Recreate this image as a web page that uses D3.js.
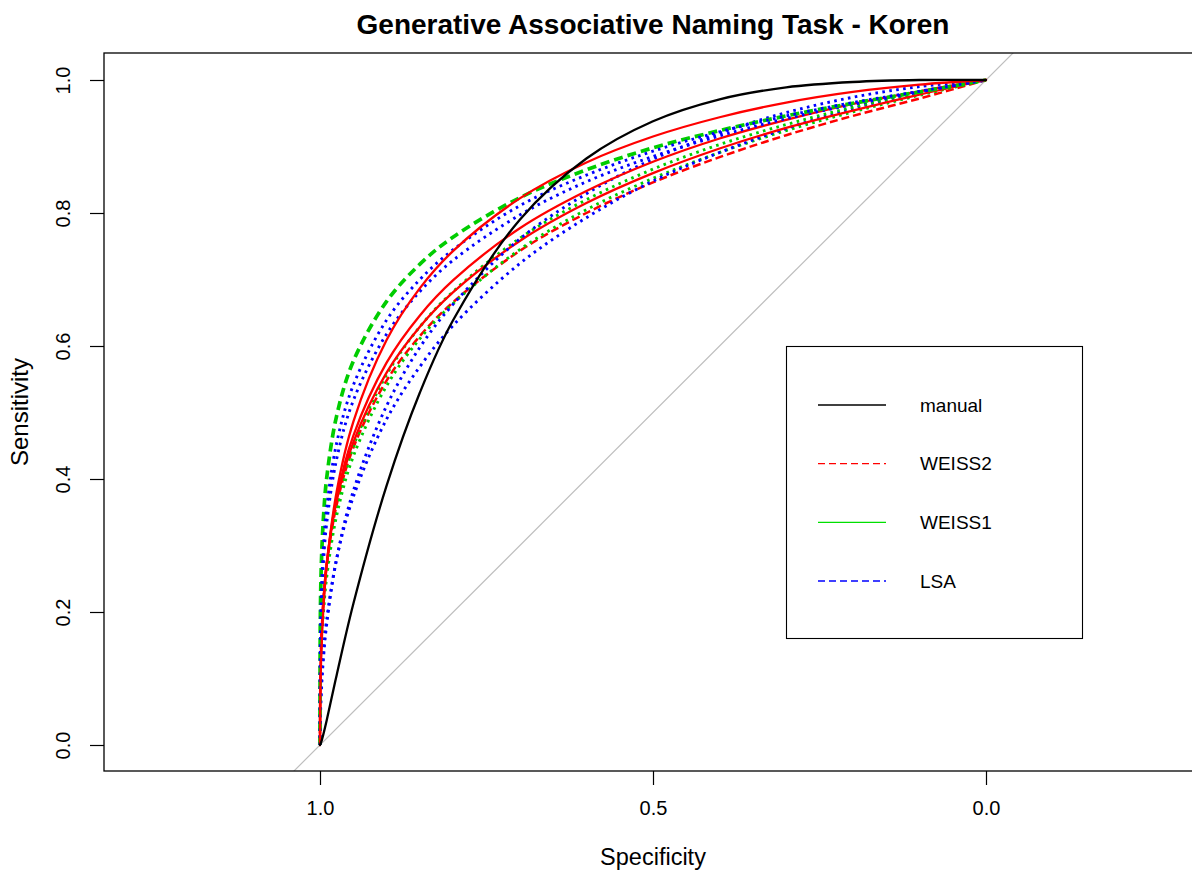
<!DOCTYPE html>
<html>
<head>
<meta charset="utf-8">
<script src="https://cdn.jsdelivr.net/npm/d3@7"></script>
<style>
  html, body { margin: 0; padding: 0; background: #fff; }
  svg { display: block; }
  text { font-family: "Liberation Sans", Arial, Helvetica, sans-serif; fill: #000; }
</style>
</head>
<body>
<svg id="chart" width="1192" height="870"></svg>
<script>
// Specificity grid shared by every smoothed ROC curve (x axis runs 1 -> 0)
const specificity = [1, 0.9995, 0.998, 0.995, 0.99, 0.975, 0.95, 0.9, 0.85, 0.8, 0.7, 0.6, 0.5, 0.4, 0.3, 0.2, 0.1, 0];

// Sensitivity of each curve at the specificities above
const manual       = [0, 0.001, 0.005, 0.016, 0.037, 0.105, 0.212, 0.390, 0.530, 0.639, 0.790, 0.882, 0.938, 0.971, 0.989, 0.997, 1.000, 1];
const weiss2SolidA = [0, 0.075, 0.138, 0.203, 0.269, 0.381, 0.486, 0.609, 0.687, 0.743, 0.822, 0.876, 0.915, 0.944, 0.966, 0.982, 0.993, 1];
const weiss2SolidB = [0, 0.091, 0.153, 0.214, 0.273, 0.372, 0.465, 0.575, 0.646, 0.699, 0.777, 0.833, 0.877, 0.912, 0.940, 0.964, 0.983, 1];
const weiss2SolidC = [0, 0.096, 0.157, 0.215, 0.272, 0.367, 0.455, 0.560, 0.629, 0.681, 0.758, 0.815, 0.860, 0.897, 0.928, 0.954, 0.978, 1];
const weiss2Dashed = [0, 0.099, 0.159, 0.216, 0.270, 0.361, 0.447, 0.548, 0.615, 0.666, 0.743, 0.800, 0.846, 0.884, 0.917, 0.946, 0.972, 1];
const weiss1Dashed = [0, 0.189, 0.271, 0.339, 0.401, 0.495, 0.577, 0.667, 0.723, 0.764, 0.823, 0.865, 0.898, 0.924, 0.946, 0.965, 0.982, 1];
const weiss1DotA   = [0, 0.087, 0.146, 0.204, 0.261, 0.358, 0.449, 0.557, 0.629, 0.682, 0.762, 0.820, 0.866, 0.903, 0.933, 0.959, 0.981, 1];
const weiss1DotB   = [0, 0.084, 0.141, 0.197, 0.252, 0.345, 0.434, 0.540, 0.611, 0.664, 0.745, 0.805, 0.852, 0.891, 0.924, 0.952, 0.977, 1];
const lsaDotA      = [0, 0.150, 0.226, 0.294, 0.356, 0.454, 0.541, 0.639, 0.700, 0.745, 0.811, 0.857, 0.893, 0.922, 0.946, 0.966, 0.983, 1];
const lsaDotB      = [0, 0.134, 0.206, 0.272, 0.333, 0.430, 0.518, 0.618, 0.682, 0.729, 0.797, 0.847, 0.885, 0.916, 0.942, 0.963, 0.982, 1];
const lsaDotC      = [0, 0.037, 0.079, 0.128, 0.181, 0.280, 0.382, 0.510, 0.598, 0.663, 0.761, 0.829, 0.881, 0.920, 0.951, 0.974, 0.990, 1];
const lsaDotD      = [0, 0.047, 0.091, 0.138, 0.188, 0.280, 0.373, 0.490, 0.569, 0.631, 0.724, 0.793, 0.848, 0.891, 0.927, 0.957, 0.981, 1];

// Axis ticks
const xTicks = [1.0, 0.5, 0.0];
const yTicks = [0.0, 0.2, 0.4, 0.6, 0.8, 1.0];

// Legend entries
const legendLabels = ["manual", "WEISS2", "WEISS1", "LSA"];

// Drawing styles
const COLORS = { black: "#000000", red: "#FF0000", green: "#00CD00", blue: "#0000FF" };
const STYLES = {
  solid:  { dash: null,  width: 2.3 },
  dashed: { dash: "8,4", width: 2.5 },
  long:   { dash: "9,5", width: 3.7 },
  dotted: { dash: "2.6,4.4", width: 2.9 }
};

const curves = [
  { values: weiss2Dashed, color: "red",   style: "dashed" },
  { values: weiss1DotB,   color: "green", style: "dotted" },
  { values: lsaDotD,      color: "blue",  style: "dotted" },
  { values: weiss1DotA,   color: "green", style: "dotted" },
  { values: weiss2SolidC, color: "red",   style: "solid" },
  { values: lsaDotC,      color: "blue",  style: "dotted" },
  { values: weiss2SolidB, color: "red",   style: "solid" },
  { values: lsaDotB,      color: "blue",  style: "dotted" },
  { values: weiss1Dashed, color: "green", style: "long" },
  { values: lsaDotA,      color: "blue",  style: "dotted" },
  { values: weiss2SolidA, color: "red",   style: "solid" },
  { values: manual,       color: "black", style: "solid" }
];

const legendStyles = [
  { color: "#000000", dash: null },
  { color: "#FF0000", dash: "7,4" },
  { color: "#00E000", dash: null },
  { color: "#0000FF", dash: "7,4" }
];

const svg = d3.select("#chart");
const W = 1192, H = 870;

// Plot region (equal aspect: one unit is the same length on both axes)
const box = { left: 104, top: 53, right: W + 6, bottom: 771 };
const x = d3.scaleLinear().domain([1, 0]).range([320, 986]);
const y = d3.scaleLinear().domain([0, 1]).range([745, 80]);

svg.append("defs").append("clipPath").attr("id", "plotClip")
  .append("rect")
  .attr("x", box.left).attr("y", box.top)
  .attr("width", box.right - box.left).attr("height", box.bottom - box.top);

const plot = svg.append("g").attr("clip-path", "url(#plotClip)");

// Chance diagonal, sensitivity = 1 - specificity, across the whole region
const sLeft = x.invert(box.left), sRight = x.invert(box.right);
plot.append("line")
  .attr("x1", x(sLeft)).attr("y1", y(1 - sLeft))
  .attr("x2", x(sRight)).attr("y2", y(1 - sRight))
  .attr("stroke", "#BEBEBE").attr("stroke-width", 1.2);

const line = d3.line()
  .x(d => x(d[0]))
  .y(d => y(d[1]))
  .curve(d3.curveCatmullRom.alpha(0.5));

curves.forEach(c => {
  const st = STYLES[c.style];
  plot.append("path")
    .datum(specificity.map((s, i) => [s, c.values[i]]))
    .attr("d", line)
    .attr("fill", "none")
    .attr("stroke", COLORS[c.color])
    .attr("stroke-width", st.width)
    .attr("stroke-dasharray", st.dash)
    .attr("stroke-linecap", st.dash ? "butt" : "round")
    .attr("stroke-linejoin", "round");
});

// Frame
svg.append("rect")
  .attr("x", box.left).attr("y", box.top)
  .attr("width", box.right - box.left).attr("height", box.bottom - box.top)
  .attr("fill", "none").attr("stroke", "#000").attr("stroke-width", 1.3);

// Bottom axis
const xAxis = d3.axisBottom(x).tickValues(xTicks).tickSize(14).tickPadding(16)
  .tickFormat(d3.format(".1f"));
const gx = svg.append("g").attr("transform", `translate(0,${box.bottom})`).call(xAxis);
gx.select(".domain").remove();
gx.selectAll(".tick line").attr("stroke", "#000").attr("stroke-width", 1.2);
gx.selectAll(".tick text").attr("font-size", 20).attr("fill", "#000")
  .style("font-family", "'Liberation Sans', Arial, sans-serif");

// Left axis with labels turned to read upward
const yAxis = d3.axisLeft(y).tickValues(yTicks).tickSize(14).tickFormat(d3.format(".1f"));
const gy = svg.append("g").attr("transform", `translate(${box.left},0)`).call(yAxis);
gy.select(".domain").remove();
gy.selectAll(".tick line").attr("stroke", "#000").attr("stroke-width", 1.2);
gy.selectAll(".tick text")
  .attr("x", null).attr("dy", null)
  .attr("text-anchor", "middle")
  .attr("dominant-baseline", "central")
  .attr("transform", "translate(-41,0) rotate(-90)")
  .attr("font-size", 20).attr("fill", "#000")
  .style("font-family", "'Liberation Sans', Arial, sans-serif");

// Titles
svg.append("text")
  .attr("x", 653).attr("y", 34)
  .attr("text-anchor", "middle")
  .attr("font-size", 28).attr("font-weight", "bold")
  .text("Generative Associative Naming Task - Koren");

svg.append("text")
  .attr("x", 653).attr("y", 865)
  .attr("text-anchor", "middle")
  .attr("font-size", 23.5)
  .text("Specificity");

svg.append("text")
  .attr("transform", `translate(28,${(box.top + box.bottom) / 2}) rotate(-90)`)
  .attr("text-anchor", "middle")
  .attr("font-size", 24)
  .text("Sensitivity");

// Legend
const lg = { left: 786, top: 346, width: 296, height: 292 };
svg.append("rect")
  .attr("x", lg.left + 0.5).attr("y", lg.top + 0.5)
  .attr("width", lg.width).attr("height", lg.height)
  .attr("fill", "#fff").attr("stroke", "#000").attr("stroke-width", 1.1);

const rowY = d3.scalePoint().domain(legendLabels).range([405, 581]);
legendLabels.forEach((lab, i) => {
  const yy = rowY(lab);
  svg.append("line")
    .attr("x1", 818).attr("x2", 886).attr("y1", yy).attr("y2", yy)
    .attr("stroke", legendStyles[i].color).attr("stroke-width", 1.3)
    .attr("stroke-dasharray", legendStyles[i].dash);
  svg.append("text")
    .attr("x", 920).attr("y", yy)
    .attr("dominant-baseline", "central")
    .attr("font-size", 19)
    .text(lab);
});
</script>
</body>
</html>
